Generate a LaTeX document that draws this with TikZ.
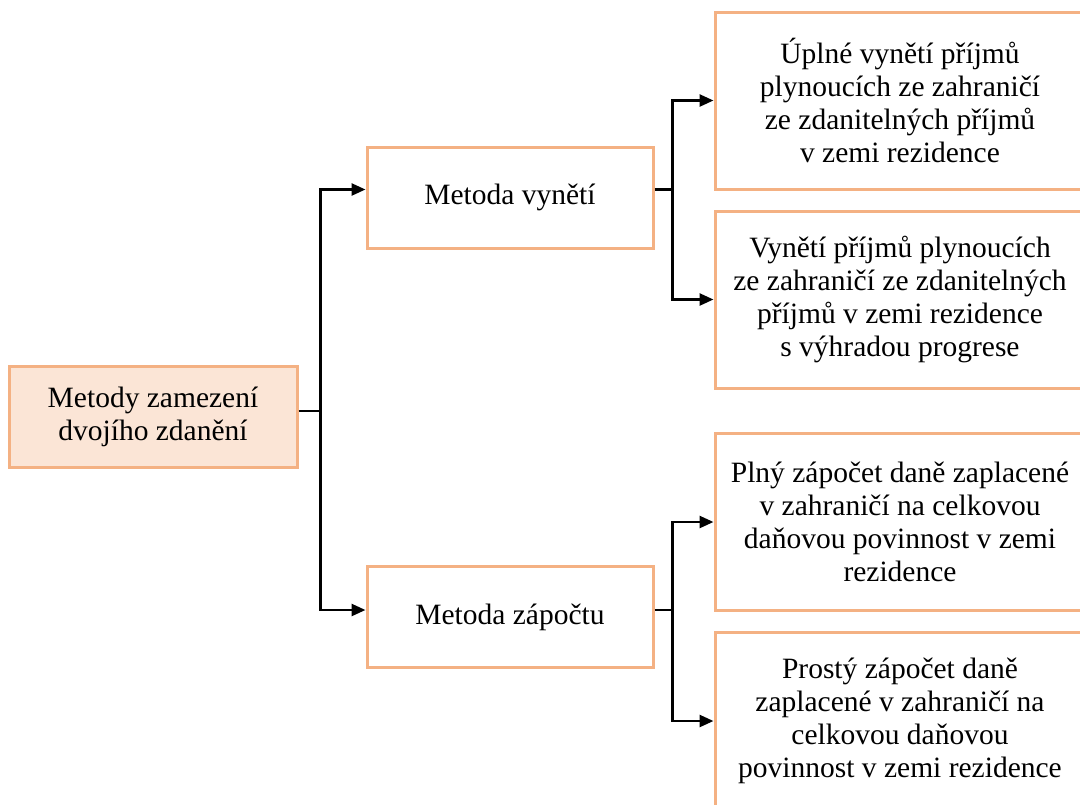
\documentclass[tikz,border=0pt]{standalone}
\usepackage{fontspec}
\setmainfont{Liberation Serif}
\usetikzlibrary{arrows.meta}
\definecolor{boxline}{RGB}{244,177,131}
\definecolor{boxfill}{RGB}{251,229,214}
\tikzset{
  box/.style={draw=boxline, line width=3pt, align=center, inner sep=0pt,
    font=\fontsize{29.5}{33}\selectfont},
  rootbox/.style={box, fill=boxfill, minimum width=288pt, minimum height=101pt},
  midbox/.style={box, fill=white, minimum width=286pt, minimum height=101pt},
  leafbox/.style={box, fill=white, minimum width=370pt, minimum height=177pt},
  link/.style={line width=2.6pt, black},
  arr/.style={link, -{Triangle[length=14pt,width=12pt]}}
}
\begin{document}
\begin{tikzpicture}[x=1pt,y=-1pt]
\useasboundingbox (0,0) rectangle (1080,804);
\begin{scope}
\clip (0,0) rectangle (1080,804);

% boxes
\node[rootbox] (root) at (153,417) {Metody zamezení\\dvojího zdanění};
\node[midbox] (vyneti) at (510,197.5) {Metoda vynětí};
\node[midbox] (zapocet) at (510,617) {Metoda zápočtu};
\node[leafbox] (uplne) at (900,100.5) {Úplné vynětí příjmů\\plynoucích ze zahraničí\\ze zdanitelných příjmů\\v zemi rezidence};
\node[leafbox] (progrese) at (900,299.5) {Vynětí příjmů plynoucích\\ze zahraničí ze zdanitelných\\příjmů v zemi rezidence\\s výhradou progrese};
\node[leafbox] (plny) at (900,522) {Plný zápočet daně zaplacené\\v zahraničí na celkovou\\daňovou povinnost v zemi\\rezidence};
\node[leafbox] (prosty) at (900,721) {Prostý zápočet daně\\zaplacené v zahraničí na\\celkovou daňovou\\povinnost v zemi rezidence};

% connectors
\draw[link] ([yshift=6pt]root.east) -- ++(22,0) coordinate (j0);
\draw[arr] (j0) |- ([yshift=8pt]vyneti.west);
\draw[arr] (j0) |- ([yshift=7pt]zapocet.west);
\draw[link] ([yshift=8pt]vyneti.east) -- ++(18,0) coordinate (j1);
\draw[arr] (j1) |- (uplne.west);
\draw[arr] (j1) |- (progrese.west);
\draw[link] ([yshift=7pt]zapocet.east) -- ++(18,0) coordinate (j2);
\draw[arr] (j2) |- (plny.west);
\draw[arr] (j2) |- (prosty.west);
\end{scope}
\end{tikzpicture}
\end{document}
